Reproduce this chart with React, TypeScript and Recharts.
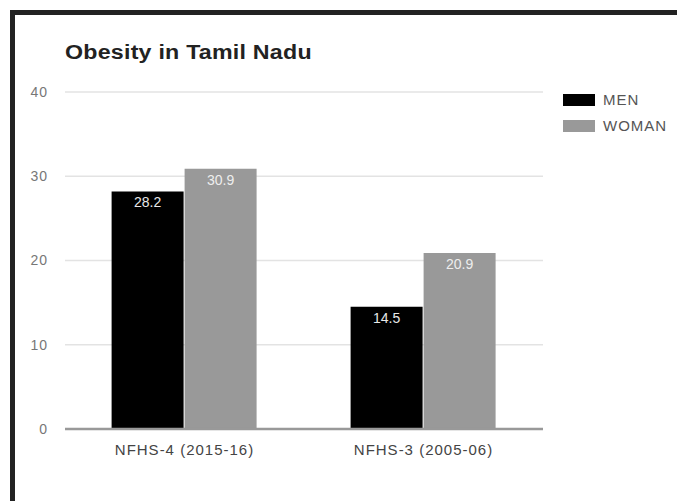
import React from 'react';
import { BarChart, Bar, XAxis, YAxis, CartesianGrid, LabelList } from 'recharts';

const categories = ['NFHS-4 (2015-16)', 'NFHS-3 (2005-06)'];
const menValues = [28.2, 14.5];
const womanValues = [30.9, 20.9];
const yTicks = [0, 10, 20, 30, 40];
const seriesNames = ['MEN', 'WOMAN'];
const seriesColors = ['#000000', '#999999'];
const title = 'Obesity in Tamil Nadu';

const data = categories.map((c, i) => ({ name: c, men: menValues[i], woman: womanValues[i] }));

const FONT = "Arial, 'Liberation Sans', sans-serif";

export default function App() {
  return (
    <div style={{ position: 'relative', width: 677, height: 493, overflow: 'hidden', background: '#fff', fontFamily: FONT }}>
      <div style={{ position: 'absolute', left: 2, top: 2, width: 800, height: 700, border: '5px solid #222', boxSizing: 'border-box' }} />
      <div style={{ position: 'absolute', left: 57, top: 34, fontSize: 20, lineHeight: '20px', fontWeight: 'bold', letterSpacing: 0.2, color: '#222', whiteSpace: 'nowrap', transform: 'scaleX(1.16)', transformOrigin: 'left center' }}>
        {title}
      </div>
      <div style={{ position: 'absolute', left: 0, top: 0 }}>
        <BarChart width={677} height={493} data={data} margin={{ top: 84, right: 142, left: 0, bottom: 32 }} barCategoryGap="19.5%" barGap={1}>
          <CartesianGrid vertical={false} stroke="#e3e3e3" strokeWidth={1.5} />
          <XAxis
            dataKey="name"
            height={40}
            tickLine={false}
            tickSize={0}
            tickMargin={15}
            axisLine={{ stroke: '#999', strokeWidth: 2.5 }}
            tick={{ fill: '#444', fontSize: 15, fontFamily: FONT, letterSpacing: 1 }}
          />
          <YAxis
            width={57}
            domain={[0, 40]}
            ticks={yTicks}
            axisLine={false}
            tickLine={false}
            tickSize={0}
            tickMargin={17}
            tick={{ fill: '#777', fontSize: 14, fontFamily: FONT, letterSpacing: 1 }}
          />
          <Bar dataKey="men" name={seriesNames[0]} fill={seriesColors[0]} isAnimationActive={false}>
            <LabelList dataKey="men" position="insideTop" offset={6} fill="#e8e8e8" fontSize={14} fontFamily={FONT} />
          </Bar>
          <Bar dataKey="woman" name={seriesNames[1]} fill={seriesColors[1]} isAnimationActive={false}>
            <LabelList dataKey="woman" position="insideTop" offset={6} fill="#eeeeee" fontSize={14} fontFamily={FONT} />
          </Bar>
        </BarChart>
      </div>
      {seriesNames.map((n, i) => (
        <div key={n} style={{ position: 'absolute', left: 555, top: 85 + i * 26, height: 13, display: 'flex', alignItems: 'center' }}>
          <div style={{ width: 32, height: 12, background: seriesColors[i] }} />
          <span style={{ marginLeft: 8, fontSize: 15, letterSpacing: 1, color: '#555', lineHeight: '13px' }}>{n}</span>
        </div>
      ))}
    </div>
  );
}
